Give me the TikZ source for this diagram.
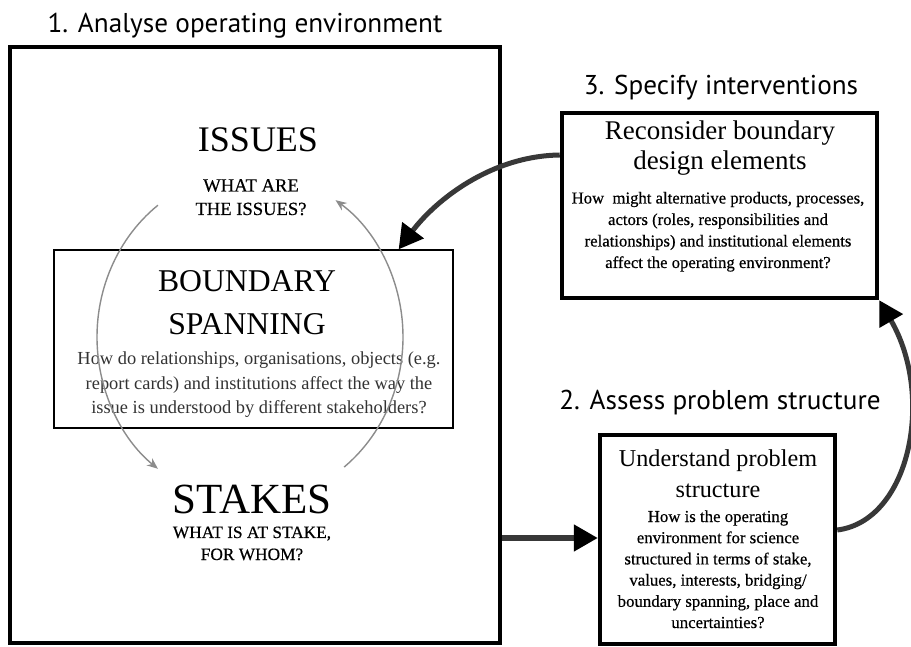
\documentclass[tikz,border=0pt]{standalone}
\usepackage{fontspec}
\setmainfont{Liberation Serif}
\newfontfamily\titlefont{PT Sans}
\newfontfamily\heavyserif[FakeBold=0.5]{Liberation Serif}
\usetikzlibrary{arrows.meta}
\begin{document}
\begin{tikzpicture}[x=1pt,y=1pt,
  heading/.style={font=\titlefont\fontsize{27.2}{30}\selectfont, anchor=base, inner sep=0pt},
  thickbox/.style={draw, line width=4.5pt, inner sep=0pt},
  thinbox/.style={draw, line width=1.3pt, inner sep=0pt},
  txt/.style={anchor=base, inner sep=0pt, align=center},
  bigarrow/.style={line width=5pt, draw=black!78, -{Triangle[length=24pt,width=26pt,color=black]}},
  arcarrow/.style={line width=1.4pt, draw=black!45, -{Stealth[length=11pt,width=9pt]}}
]
\useasboundingbox (0,0) rectangle (911,646);
\fill[white] (0,0) rectangle (911,646);

% boxes
\node[thickbox, minimum width=490pt, minimum height=596pt] (env) at (255,301) {};
\node[thinbox, minimum width=399pt, minimum height=178pt] (span) at (253.5,307) {};
\node[thickbox, minimum width=315pt, minimum height=185pt] (box3) at (719.5,440.5) {};
\node[thickbox, minimum width=235pt, minimum height=209pt] (box2) at (717.5,106.5) {};

% headings
\node[heading] (h1) at (245,613) {1. Analyse operating environment};
\node[heading] (h3) at (721,551) {3. Specify interventions};
\node[heading] (h2) at (720,236) {2. Assess problem structure};

% left panel texts
\node[txt, font=\fontsize{36}{40}\selectfont] (issues) at (258,494) {ISSUES};
\node[txt, font=\heavyserif\fontsize{18.6}{23.5}\selectfont] (issuesq) at (251,431) {WHAT ARE\\THE ISSUES?};
\node[txt, font=\fontsize{31.7}{43}\selectfont] (bs) at (247,311) {BOUNDARY\\SPANNING};
\node[txt, font=\fontsize{18.4}{24.5}\selectfont, text=black!80] (bsq) at (259,232)
  {How do relationships, organisations, objects (e.g.\\report cards) and institutions affect the way the\\issue is understood by different stakeholders?};
\node[txt, font=\fontsize{43}{46}\selectfont] (stakes) at (252,132) {STAKES};
\node[txt, font=\heavyserif\fontsize{17.3}{22}\selectfont] (stakesq) at (252,86) {WHAT IS AT STAKE,\\FOR WHOM?};

% box 3 texts
\node[txt, font=\fontsize{27}{30}\selectfont] (b3t) at (720,476) {Reconsider boundary\\design elements};
\node[txt, font=\heavyserif\fontsize{16.7}{21.5}\selectfont] (b3b) at (718,378)
  {How~ might alternative products, processes,\\actors (roles, responsibilities and\\relationships) and institutional elements\\affect the operating environment?};

% box 2 texts
\node[txt, font=\fontsize{24.2}{31}\selectfont] (b2t) at (718,148) {Understand problem\\structure};
\node[txt, font=\heavyserif\fontsize{16.8}{21.2}\selectfont] (b2b) at (718,18)
  {How is the operating\\environment for science\\structured in terms of stake,\\values, interests, bridging/\\boundary spanning, place and\\uncertainties?};

% circular grey arrows
\coordinate (cc) at (250,309);
\draw[arcarrow] (cc) ++(127:153 and 165) arc[start angle=127, end angle=233, x radius=153, y radius=165];
\draw[arcarrow] (cc) ++(-52:153 and 165) arc[start angle=-52, end angle=56, x radius=153, y radius=165];

% big arrows
\draw[bigarrow] (env.east |- 0,108) -- (box2.west |- 0,108);
\draw[bigarrow] (box2.east |- 0,116) .. controls (910,125) and (935,250) .. (box3.south east);
\draw[bigarrow] (box3.west |- 0,491) .. controls (490,490) and (435,445) .. ([xshift=-55pt]span.north east);
\end{tikzpicture}
\end{document}
